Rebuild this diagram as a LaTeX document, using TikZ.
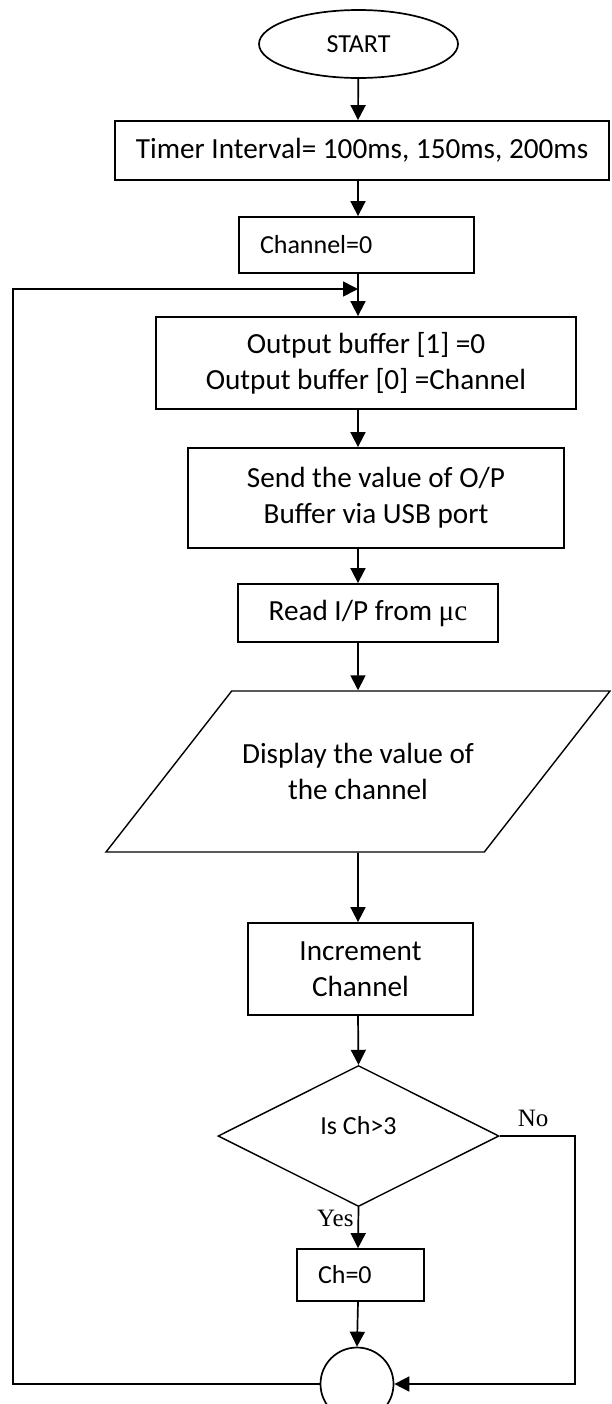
\documentclass[tikz,border=0pt]{standalone}
\usepackage{fontspec}
\setmainfont{Carlito}
\newfontfamily\timesfont{Liberation Serif}
\usetikzlibrary{shapes.geometric,arrows.meta}

\begin{document}
\begin{tikzpicture}[x=0.5pt, y=-0.5pt,
    box/.style={draw, rectangle, line width=0.9pt, inner sep=0pt, align=center,
      font=\fontsize{14.6}{17.8}\selectfont},
    smallbox/.style={box, font=\fontsize{13}{15.6}\selectfont, inner xsep=10.5pt, align=left},
    flow/.style={line width=0.85pt, -{Triangle[length=7.5pt, width=7.5pt]}},
    tag/.style={font=\timesfont\fontsize{12.5}{15}\selectfont, inner sep=2pt}]
  \useasboundingbox (0,0) rectangle (611,1404);
  \clip (0,0) rectangle (611,1404);
  \coordinate (axis) at (358,0);
  \coordinate (merge) at (358,289);
  \coordinate (back) at (13,289);

  % main column
  \node[draw, ellipse, line width=0.85pt, inner sep=0pt, minimum width=99.5pt, minimum height=34pt,
    font=\fontsize{13}{15.6}\selectfont] (start) at (358.5,44) {START};
  \node[box, minimum width=247pt, minimum height=29.5pt] (timer) at (362,150.5) {Timer Interval= 100ms, 150ms, 200ms};
  \node[smallbox, text width=96.5pt, minimum height=28pt] (chan) at (356.5,245) {Channel=0};
  \node[box, minimum width=210pt, minimum height=46pt] (outbuf) at (366,363) {Output buffer [1] =0\\Output buffer [0] =Channel};
  \node[box, minimum width=188pt, minimum height=50pt] (send) at (376,498) {Send the value of O/P\\Buffer via USB port};
  \node[box, minimum width=130pt, minimum height=29pt] (readin) at (368,613) {Read I/P from {\timesfont μc}};
  \node[box, trapezium, trapezium left angle=52, trapezium right angle=128, trapezium stretches body,
    inner ysep=26.2pt, minimum width=252pt, minimum height=80.5pt, line width=0.7pt] (disp) at (358,771.5) {Display the value of\\the channel};
  \node[box, minimum width=112.5pt, minimum height=46pt] (incr) at (360.5,969) {Increment\\Channel};
  \node[draw, diamond, line width=0.7pt, inner sep=0pt, minimum width=140.5pt, minimum height=70.5pt,
    font=\fontsize{13}{15.6}\selectfont] (check) at (358.5,1136) {\raisebox{11pt}{Is Ch>3}};
  \node[smallbox, text width=42.5pt, minimum height=26pt] (reset) at (360.5,1275) {Ch=0};
  \node[draw, circle, line width=0.85pt, inner sep=0pt, minimum size=36.5pt] (join) at (357,1384) {};

  % flow lines
  \draw[flow] (start) -- (axis |- timer.north);
  \draw[flow] (axis |- timer.south) -- (axis |- chan.north);
  \draw[flow] (axis |- chan.south) -- (axis |- outbuf.north);
  \draw[flow] (axis |- outbuf.south) -- (axis |- send.north);
  \draw[flow] (axis |- send.south) -- (axis |- readin.north);
  \draw[flow] (axis |- readin.south) -- (disp.north);
  \draw[flow] (disp.south) -- (axis |- incr.north);
  \draw[flow] (axis |- incr.south) -- (check.north);
  \draw[flow] (check.south) -- node[tag, left, pos=0.28] {Yes} (axis |- reset.north);
  \draw[flow] (axis |- reset.south) -- (join.north);
  \draw[flow] (check.east) -- node[tag, above, inner sep=4pt, xshift=-2pt] {No} ++(75,0) |- (join.east);
  \draw[flow] (join.west) -| (back) -- (merge);
\end{tikzpicture}
\end{document}
